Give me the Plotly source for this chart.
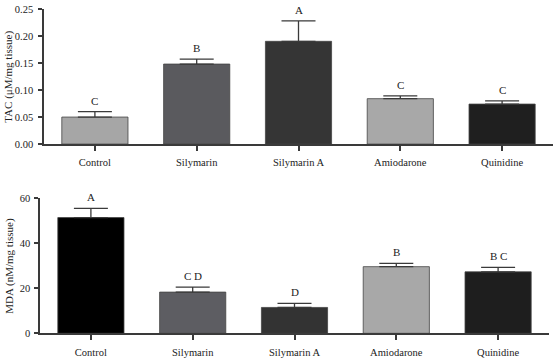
import plotly.graph_objects as go

categories = ["Control", "Silymarin", "Silymarin A", "Amiodarone", "Quinidine"]

tac_values = [0.050, 0.148, 0.190, 0.084, 0.074]
tac_err = [0.010, 0.009, 0.038, 0.005, 0.006]
tac_letters = ["C", "B", "A", "C", "C"]
tac_colors = ["#a6a6a6", "#5a5a5e", "#353535", "#a8a8a8", "#1f1f1f"]

mda_values = [51.4, 18.3, 11.5, 29.6, 27.3]
mda_err = [4.1, 2.2, 1.8, 1.5, 2.0]
mda_letters = ["A", "C D", "D", "B", "B C"]
mda_colors = ["#000000", "#5d5d62", "#333333", "#a8a8a8", "#1e1e1e"]

W, H = 553, 359
FONT = "Liberation Serif"
AX = "#3a3a3a"

fig = go.Figure()

fig.add_trace(go.Bar(
    x=categories, y=tac_values, xaxis="x", yaxis="y",
    marker=dict(color=tac_colors, line=dict(color="#444444", width=0.8)),
    width=0.65,
    error_y=dict(type="data", array=tac_err, arrayminus=[0]*5, symmetric=False,
                 color=AX, thickness=1.3, width=17),
    showlegend=False,
))
fig.add_trace(go.Bar(
    x=categories, y=mda_values, xaxis="x2", yaxis="y2",
    marker=dict(color=mda_colors, line=dict(color="#444444", width=0.8)),
    width=0.65,
    error_y=dict(type="data", array=mda_err, arrayminus=[0]*5, symmetric=False,
                 color=AX, thickness=1.3, width=17),
    showlegend=False,
))

annotations = []
for c, v, e, t in zip(categories, tac_values, tac_err, tac_letters):
    annotations.append(dict(x=c, y=v + e, xref="x", yref="y", text=t, showarrow=False,
                            yanchor="bottom", yshift=3, font=dict(family=FONT, size=11, color="#222")))
for c, v, e, t in zip(categories, mda_values, mda_err, mda_letters):
    annotations.append(dict(x=c, y=v + e, xref="x2", yref="y2", text=t, showarrow=False,
                            yanchor="bottom", yshift=3, font=dict(family=FONT, size=11, color="#222")))

annotations.append(dict(x=9/W, y=1-74/H, xref="paper", yref="paper", text="TAC (μM/mg tissue)",
                        textangle=-90, showarrow=False, xanchor="center", yanchor="middle",
                        font=dict(family=FONT, size=11, color="#222")))
annotations.append(dict(x=10/W, y=1-269/H, xref="paper", yref="paper", text="MDA (nM/mg tissue)",
                        textangle=-90, showarrow=False, xanchor="center", yanchor="middle",
                        font=dict(family=FONT, size=11, color="#222")))

axis_common = dict(showgrid=False, zeroline=False, showline=True, linecolor=AX, linewidth=1.5,
                   ticks="outside", tickcolor=AX, tickwidth=1.5,
                   tickfont=dict(family=FONT, size=10.5, color="#222"))

fig.update_layout(
    width=W, height=H,
    margin=dict(l=0, r=0, t=0, b=0),
    paper_bgcolor="white", plot_bgcolor="white",
    font=dict(family=FONT, color="#222"),
    xaxis=dict(domain=[44/W, 1.0], anchor="y", range=[-0.5, 4.5], ticklen=5,
               ticklabelstandoff=3, **axis_common),
    yaxis=dict(domain=[1-143.5/H, 1-4/H], anchor="x", range=[0, 0.25],
               tickvals=[0, 0.05, 0.10, 0.15, 0.20, 0.25], tickformat=".2f", ticklen=4,
               ticklabelstandoff=3, **axis_common),
    xaxis2=dict(domain=[40/W, 549/W], anchor="y2", range=[-0.5, 4.5], ticklen=5,
                ticklabelstandoff=3, **axis_common),
    yaxis2=dict(domain=[1-338.7/H, 1-199.3/H], anchor="x2", range=[0, 60],
                tickvals=[0, 20, 40, 60], ticklen=4, ticklabelstandoff=2, **axis_common),
    annotations=annotations,
    bargap=0.35,
)

fig.write_html("out.html")
